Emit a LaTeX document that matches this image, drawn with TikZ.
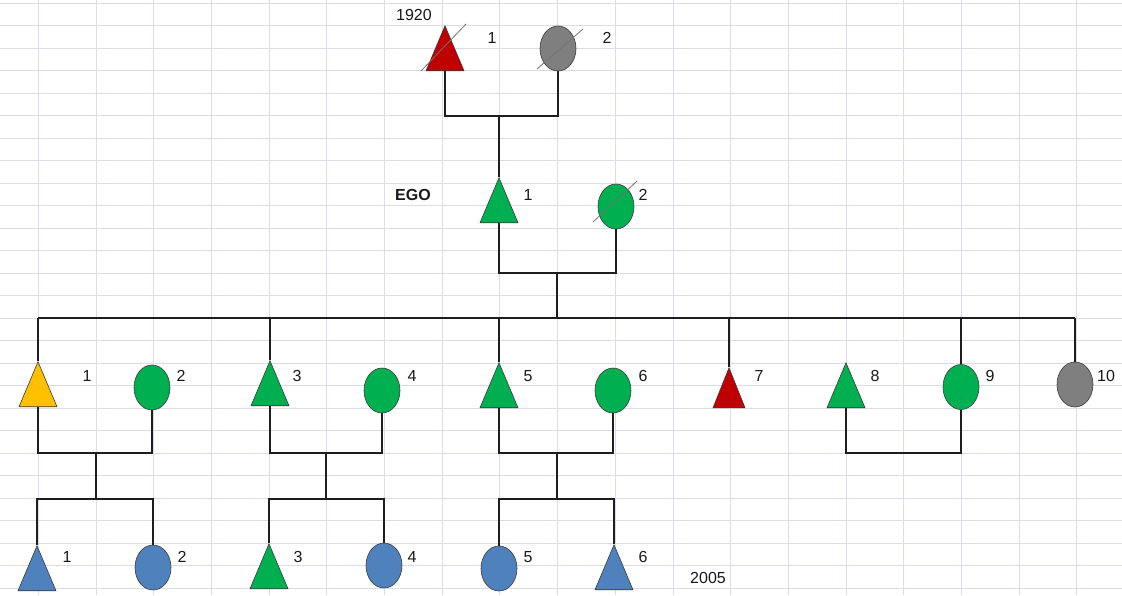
\documentclass[tikz,border=0pt]{standalone}
\usepackage{fontspec}
\setmainfont{Liberation Sans}
\usetikzlibrary{shapes.geometric}
\definecolor{gridc}{RGB}{218,220,236}
\definecolor{redc}{HTML}{C00000}
\definecolor{grayc}{HTML}{7F7F7F}
\definecolor{greenc}{HTML}{00B050}
\definecolor{yellowc}{HTML}{FFC000}
\definecolor{bluec}{HTML}{4F81BD}
\definecolor{linec}{HTML}{1E1E1E}
\definecolor{outc}{HTML}{3A3A3A}
\begin{document}
\begin{tikzpicture}[x=1pt,y=-1pt,
  gridline/.style={draw=gridc,line width=0.9pt},
  tri/.style={isosceles triangle,isosceles triangle stretches,shape border rotate=90,
    minimum width=38pt,minimum height=45pt,inner sep=0pt,draw=outc,line width=0.6pt,anchor=apex},
  smalltri/.style={tri,minimum width=32pt,minimum height=40pt},
  circ/.style={ellipse,minimum width=36pt,minimum height=45pt,inner sep=0pt,draw=outc,line width=0.6pt},
  conn/.style={draw=linec,line width=1.4pt},
  slash/.style={draw=black!55,line width=0.8pt},
  lab/.style={inner sep=0pt,text=black!90,font=\fontsize{16}{18}\selectfont}]
\useasboundingbox (0,0) rectangle (1122,595);
\fill[white] (0,0) rectangle (1122,595);
\foreach \k in {0,...,20} \draw[gridline] ({38.3+57.7*(\k-1)},0) -- ({38.3+57.7*(\k-1)},595);
\foreach \k in {0,...,26} \draw[gridline] (0,{3+22.5*\k}) -- (1122,{3+22.5*\k});

% generation 1
\node[tri,fill=redc] (a1) at (445,25) {};
\node[circ,fill=grayc] (a2) at (558,48.5) {};
% generation 2
\node[tri,fill=greenc] (b1) at (499,177) {};
\node[circ,fill=greenc] (b2) at (616,206.5) {};
% generation 3
\node[tri,fill=yellowc] (c1) at (38,361) {};
\node[circ,fill=greenc] (c2) at (152,387.5) {};
\node[tri,fill=greenc] (c3) at (270,360) {};
\node[circ,fill=greenc] (c4) at (382,390.5) {};
\node[tri,fill=greenc] (c5) at (499,362) {};
\node[circ,fill=greenc] (c6) at (613,390.5) {};
\node[smalltri,fill=redc] (c7) at (729,367) {};
\node[tri,fill=greenc] (c8) at (846,362) {};
\node[circ,fill=greenc] (c9) at (961,387) {};
\node[circ,fill=grayc] (c10) at (1075,384.5) {};
% generation 4
\node[tri,fill=bluec] (d1) at (37,545) {};
\node[circ,fill=bluec] (d2) at (153,567.5) {};
\node[tri,fill=greenc] (d3) at (269,543) {};
\node[circ,fill=bluec] (d4) at (384,565.5) {};
\node[circ,fill=bluec] (d5) at (499,568.5) {};
\node[tri,fill=bluec] (d6) at (614,544) {};

% deceased marks
\draw[slash] (421,71) -- (466,24);
\draw[slash] (537,69) -- (583,29);
\draw[slash] (593,222) -- (637,181);

% junctions
\coordinate (j1) at (499,116);
\coordinate (j2) at (557,273);
\coordinate (s) at (557,318);
\coordinate (j3) at (96,453);
\coordinate (k3) at (96,499);
\coordinate (j4) at (326,453);
\coordinate (k4) at (326,499);
\coordinate (j5) at (557,453);
\coordinate (k5) at (557,499);
\coordinate (j8) at (903,453);

% connectors
\draw[conn] (a1.south) |- (j1) -| (a2.south);
\draw[conn] (j1) -- (b1.north);
\draw[conn] (b1.south) |- (j2) -| (b2.south);
\draw[conn] (j2) -- (s);
\draw[conn] (c1.north |- s) -- (c10.north |- s);
\foreach \n in {c1,c3,c5,c7,c9,c10} \draw[conn] (\n.north |- s) -- (\n.north);
\draw[conn] (c1.south) |- (j3) -| (c2.south);
\draw[conn] (j3) -- (k3);
\draw[conn] (d1.north) |- (k3) -| (d2.north);
\draw[conn] (c3.south) |- (j4) -| (c4.south);
\draw[conn] (j4) -- (k4);
\draw[conn] (d3.north) |- (k4) -| (d4.north);
\draw[conn] (c5.south) |- (j5) -| (c6.south);
\draw[conn] (j5) -- (k5);
\draw[conn] (d5.north) |- (k5) -| (d6.north);
\draw[conn] (c8.south) |- (j8) -| (c9.south);

% labels
\node[lab] (y1920) at (414,15) {1920};
\node[lab] (la1) at (492,38) {1};
\node[lab] (la2) at (607,38) {2};
\node[lab,font=\fontsize{16}{18}\selectfont\bfseries] (ego) at (413,195) {EGO};
\node[lab] (lb1) at (528,195) {1};
\node[lab] (lb2) at (643,195) {2};
\node[lab] (lc1) at (87,376) {1};
\node[lab] (lc2) at (181,376) {2};
\node[lab] (lc3) at (297,376) {3};
\node[lab] (lc4) at (412,376) {4};
\node[lab] (lc5) at (528,376) {5};
\node[lab] (lc6) at (643,376) {6};
\node[lab] (lc7) at (759,376) {7};
\node[lab] (lc8) at (875,376) {8};
\node[lab] (lc9) at (990,376) {9};
\node[lab] (lc10) at (1106,376) {10};
\node[lab] (ld1) at (67,557) {1};
\node[lab] (ld2) at (182,557) {2};
\node[lab] (ld3) at (298,557) {3};
\node[lab] (ld4) at (412,557) {4};
\node[lab] (ld5) at (528,557) {5};
\node[lab] (ld6) at (643,557) {6};
\node[lab] (y2005) at (708,578) {2005};
\end{tikzpicture}
\end{document}
